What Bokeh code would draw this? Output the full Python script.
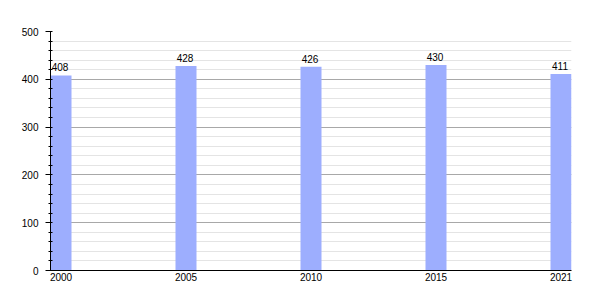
from bokeh.plotting import figure
from bokeh.models import ColumnDataSource, FixedTicker, SingleIntervalTicker, Range1d
from bokeh.core.properties import value
from bokeh.embed import file_html
from bokeh.resources import INLINE

years = ["2000", "2005", "2010", "2015", "2021"]
population = [408, 428, 426, 430, 411]

idx = list(range(len(years)))
src = ColumnDataSource(dict(x=idx, top=population, label=[str(v) for v in population]))

FONT = "Liberation Sans"

p = figure(width=600, height=300, output_backend="svg", toolbar_location=None,
           x_range=Range1d(-0.084, 4.084), y_range=Range1d(0, 500),
           min_border_left=50, min_border_right=29, min_border_top=31, min_border_bottom=30)
p.outline_line_color = None
p.background_fill_color = "white"
p.border_fill_color = "white"

p.vbar(x="x", top="top", width=0.168, source=src, color="#9daefe", line_color=None)
p.text(x="x", y="top", text="label", source=src, text_align="center", text_baseline="bottom",
       y_offset=-4, x_offset=-1, text_font=value(FONT), text_font_size="10px", text_color="black")

p.xgrid.grid_line_color = None
p.ygrid.grid_line_color = "#a8a8a8"
p.ygrid.minor_grid_line_color = "#e4e4e4"

p.yaxis.ticker = SingleIntervalTicker(interval=100, num_minor_ticks=5)
p.yaxis.major_tick_out = 5
p.yaxis.major_tick_in = 0
p.yaxis.minor_tick_out = 2
p.yaxis.minor_tick_in = 2
p.yaxis.major_label_standoff = 7
p.yaxis.axis_line_color = "black"
p.yaxis.major_label_text_font = FONT
p.yaxis.major_label_text_font_size = "10px"
p.yaxis.major_label_text_color = "black"

p.xaxis.ticker = FixedTicker(ticks=idx)
p.xaxis.major_label_overrides = {i: y for i, y in zip(idx, years)}
p.xaxis.major_tick_out = 0
p.xaxis.major_tick_in = 0
p.xaxis.minor_tick_out = 0
p.xaxis.minor_tick_in = 0
p.xaxis.major_label_standoff = 2
p.xaxis.axis_line_color = "black"
p.xaxis.major_label_text_font = FONT
p.xaxis.major_label_text_font_size = "10px"
p.xaxis.major_label_text_color = "black"

open("out.html", "w").write(file_html(p, INLINE))
